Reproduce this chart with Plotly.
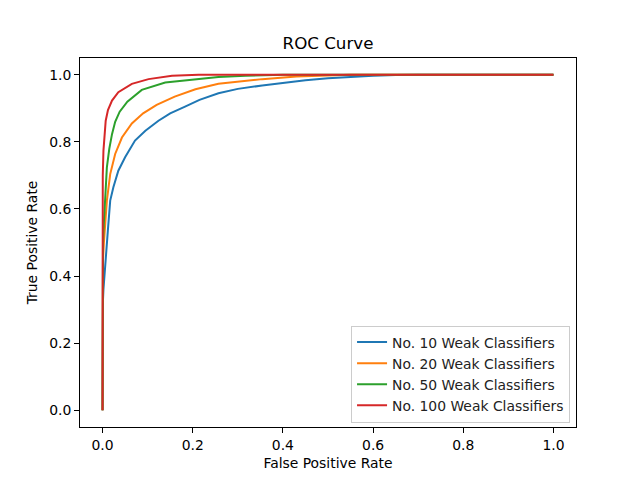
import plotly.graph_objects as go

labels = ["No. 10 Weak Classifiers", "No. 20 Weak Classifiers",
          "No. 50 Weak Classifiers", "No. 100 Weak Classifiers"]
colors = ["#1f77b4", "#ff7f0e", "#2ca02c", "#d62728"]

fpr_10 = [0, 0, 0.001, 0.002, 0.004, 0.007, 0.0118, 0.017, 0.024, 0.035, 0.050, 0.072, 0.095,
          0.124, 0.150, 0.183, 0.215, 0.257, 0.30, 0.354, 0.40, 0.45, 0.50, 0.55, 0.60, 0.65,
          0.70, 1.0]
tpr_10 = [0, 0.30, 0.33, 0.36, 0.40, 0.46, 0.536, 0.625, 0.665, 0.714, 0.754, 0.804, 0.833,
          0.863, 0.885, 0.905, 0.925, 0.945, 0.958, 0.968, 0.976, 0.984, 0.990, 0.994, 0.997,
          0.999, 1.0, 1.0]

fpr_20 = [0, 0, 0.001, 0.003, 0.006, 0.0096, 0.017, 0.028, 0.043, 0.065, 0.090, 0.12, 0.16,
          0.206, 0.257, 0.30, 0.354, 0.43, 0.50, 0.55, 1.0]
tpr_20 = [0, 0.40, 0.45, 0.50, 0.55, 0.625, 0.704, 0.764, 0.813, 0.855, 0.885, 0.91, 0.935,
          0.957, 0.973, 0.98, 0.987, 0.995, 0.999, 1.0, 1.0]

fpr_50 = [0, 0, 0.001, 0.002, 0.006, 0.0096, 0.015, 0.021, 0.028, 0.038, 0.055, 0.087, 0.139,
          0.213, 0.257, 0.317, 0.36, 0.40, 1.0]
tpr_50 = [0, 0.45, 0.50, 0.536, 0.625, 0.724, 0.78, 0.823, 0.86, 0.89, 0.92, 0.955, 0.977,
          0.988, 0.993, 0.997, 0.999, 1.0, 1.0]

fpr_100 = [0, 0, 0.0005, 0.002, 0.004, 0.007, 0.012, 0.017, 0.021, 0.035, 0.065, 0.102, 0.154,
           0.213, 0.25, 1.0]
tpr_100 = [0, 0.536, 0.70, 0.774, 0.82, 0.863, 0.895, 0.913, 0.923, 0.948, 0.973, 0.987, 0.997,
           1.0, 1.0, 1.0]

series = [(fpr_10, tpr_10), (fpr_20, tpr_20), (fpr_50, tpr_50), (fpr_100, tpr_100)]

ticks = [0.0, 0.2, 0.4, 0.6, 0.8, 1.0]
tick_text = ["0.0", "0.2", "0.4", "0.6", "0.8", "1.0"]

fig = go.Figure()
for (x, y), name, c in zip(series, labels, colors):
    fig.add_trace(go.Scatter(x=x, y=y, mode="lines", name=name,
                             line=dict(color=c, width=2)))

font = dict(family="DejaVu Sans", size=13.9, color="black")
axis_common = dict(showgrid=False, zeroline=False, showline=True, mirror=True,
                   linecolor="black", linewidth=1, ticks="outside", ticklen=5,
                   tickcolor="black", tickfont=font, tickvals=ticks, ticktext=tick_text,
                   automargin=False)

fig.update_layout(
    width=640, height=480,
    margin=dict(l=72, r=72, t=50, b=61),
    paper_bgcolor="white", plot_bgcolor="white",
    font=font,
    title=dict(text="ROC Curve", x=0.5, xref="paper", y=1 - 35 / 480, yref="container",
               xanchor="center", yanchor="middle",
               font=dict(family="DejaVu Sans", size=16.7, color="black")),
    xaxis=dict(range=[-0.05, 1.05], title=dict(text="False Positive Rate", font=font, standoff=6),
               **axis_common),
    yaxis=dict(range=[-0.05, 1.05], title=dict(text="True Positive Rate", font=font, standoff=8),
               **axis_common),
    legend=dict(x=0.988, y=0.012, xanchor="right", yanchor="bottom",
                bgcolor="white", bordercolor="#cccccc", borderwidth=1,
                font=dict(family="DejaVu Sans", size=13.9, color="#222222"),
                tracegroupgap=0, itemwidth=30),
    showlegend=True,
)

fig.write_html("out.html")
